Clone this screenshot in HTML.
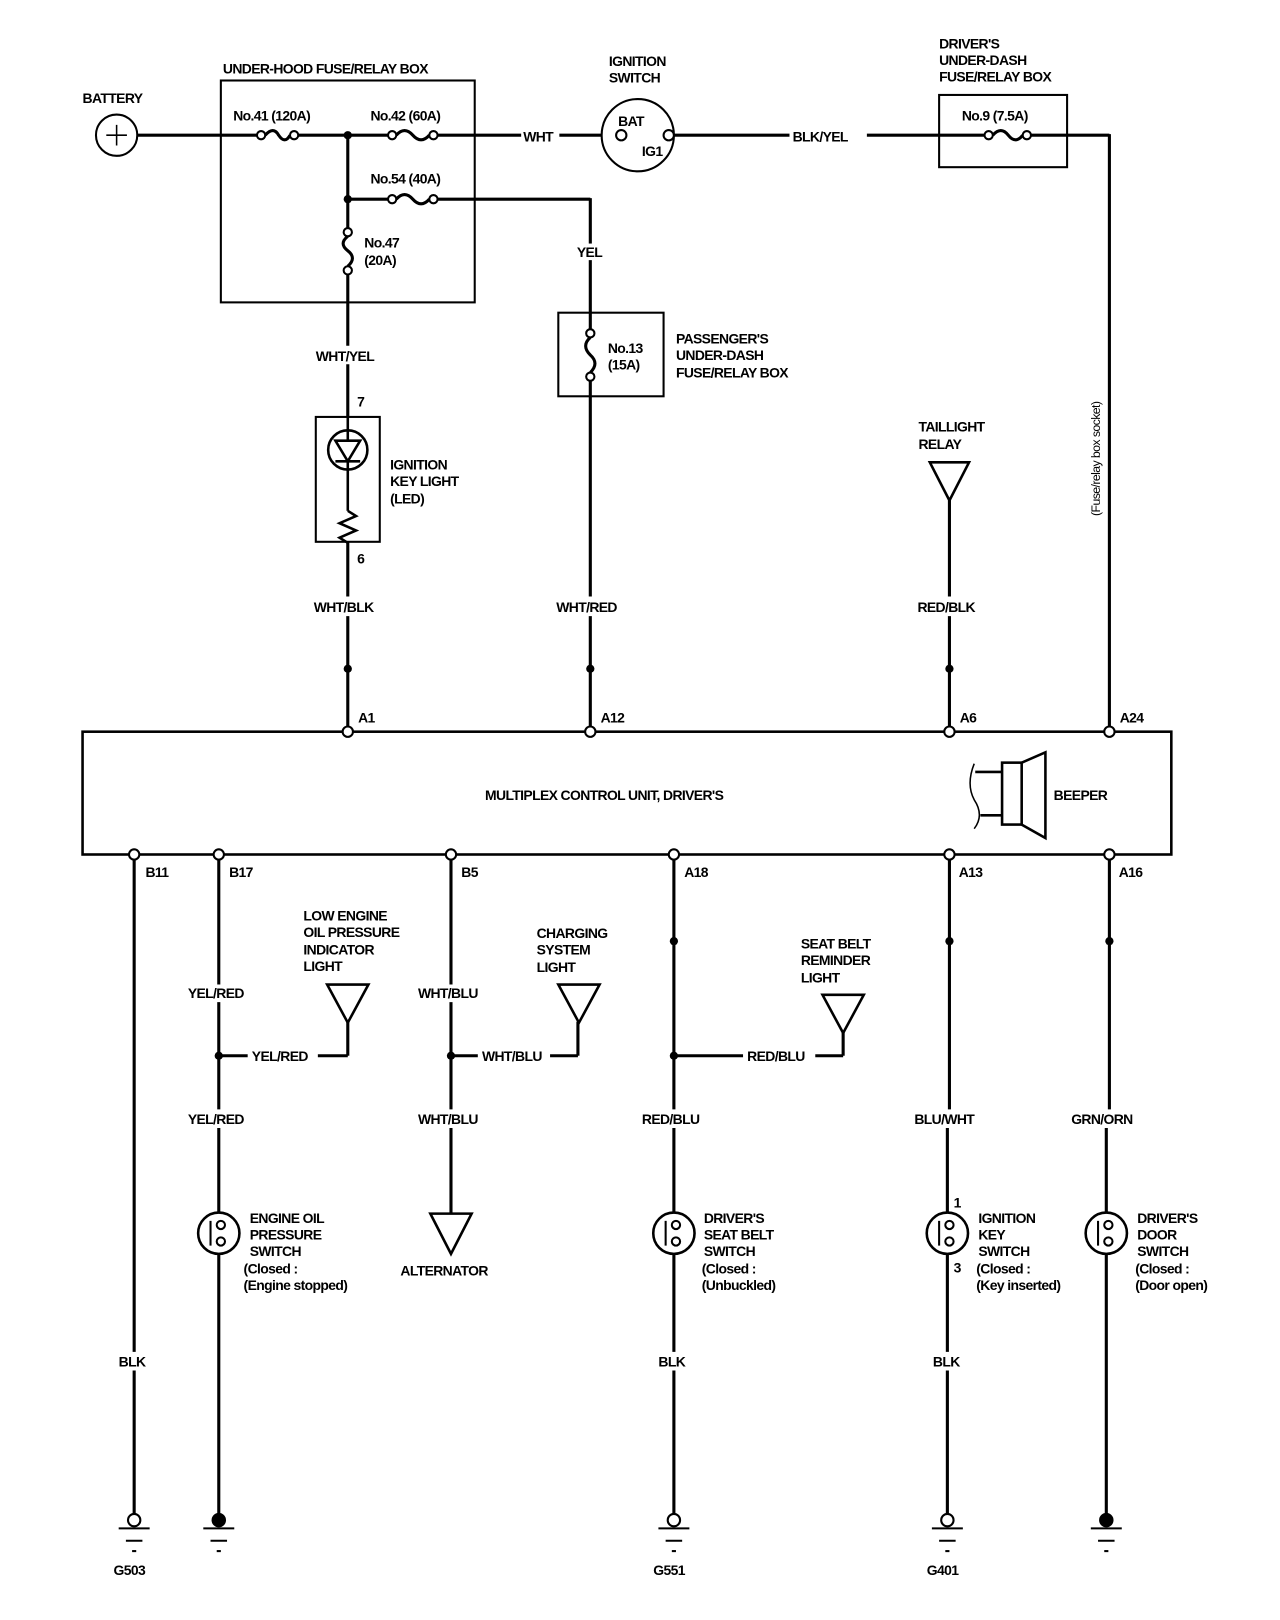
<!DOCTYPE html>
<html><head><meta charset="utf-8"><style>
html,body{margin:0;padding:0;background:#fff;}
svg{display:block}
text{font-family:"Liberation Sans",sans-serif;font-weight:bold;font-size:13.5px;fill:#000;letter-spacing:-0.6px}
</style></head><body>
<svg width="1280" height="1620" viewBox="0 0 1280 1620" xmlns="http://www.w3.org/2000/svg">
<defs>
<g id="gnd">
<line x1="-15" y1="3" x2="15" y2="3" stroke="#000" stroke-width="2"/>
<line x1="-8" y1="15" x2="8" y2="15" stroke="#000" stroke-width="2"/>
<line x1="-2" y1="25" x2="2" y2="25" stroke="#000" stroke-width="2"/>
</g>
<g id="sw">
<circle cx="0" cy="0" r="20" fill="#fff" stroke="#000" stroke-width="2.5"/>
<line x1="-8" y1="-12" x2="-8" y2="12" stroke="#000" stroke-width="2"/>
<circle cx="2" cy="-8" r="4" fill="#fff" stroke="#000" stroke-width="2"/>
<circle cx="2" cy="8" r="4" fill="#fff" stroke="#000" stroke-width="2"/>
</g>
</defs>
<g transform="scale(1.032)" stroke-linecap="butt">
<g stroke="#000" stroke-width="3" fill="none">
<line x1="133" y1="131" x2="253" y2="131"/>
<path d="M257 131 Q265 122 270 131 Q276 140 281 131"/>
<line x1="289" y1="131" x2="376" y2="131"/>
<path d="M384 131 Q392 122 400 131 Q408 140 416 131"/>
<line x1="424" y1="131" x2="505" y2="131"/>
<line x1="542" y1="131" x2="583" y2="131"/>
<line x1="653" y1="131" x2="765" y2="131"/>
<line x1="840" y1="131" x2="954" y2="131"/>
<path d="M962 131 Q970 122 977 131 Q984 140 991 131"/>
<line x1="999" y1="131" x2="1075" y2="131"/>
<line x1="1075" y1="130" x2="1075" y2="705"/>
<line x1="337" y1="131" x2="337" y2="221"/>
<line x1="337" y1="193" x2="376" y2="193"/>
<path d="M384 193 Q392 184 400 193 Q408 202 416 193"/>
<line x1="424" y1="193" x2="572" y2="193"/>
<line x1="572" y1="192" x2="572" y2="236"/>
<line x1="572" y1="252" x2="572" y2="319"/>
<path d="M572 327 Q563 335 572 344 Q581 352 572 361"/>
<line x1="572" y1="369" x2="572" y2="578"/>
<line x1="572" y1="597" x2="572" y2="705"/>
<path d="M337 229 Q328 236 337 243 Q346 250 337 258"/>
<line x1="337" y1="266" x2="337" y2="335"/>
<line x1="337" y1="353" x2="337" y2="578"/>
<line x1="337" y1="597" x2="337" y2="705"/>
<line x1="920" y1="485" x2="920" y2="578"/>
<line x1="920" y1="597" x2="920" y2="705"/>
</g>
<g stroke="#000" stroke-width="2" fill="#fff">
<circle cx="113" cy="131" r="20"/>
<circle cx="253" cy="131" r="4"/><circle cx="285" cy="131" r="4"/>
<circle cx="380" cy="131" r="4"/><circle cx="420" cy="131" r="4"/>
<circle cx="380" cy="193" r="4"/><circle cx="420" cy="193" r="4"/>
<circle cx="337" cy="225" r="4"/><circle cx="337" cy="262" r="4"/>
<circle cx="572" cy="323" r="4"/><circle cx="572" cy="365" r="4"/>
<circle cx="958" cy="131" r="4"/><circle cx="995" cy="131" r="4"/>
<circle cx="618" cy="131" r="35"/>
<circle cx="602" cy="131" r="5"/><circle cx="648" cy="131" r="5"/>
</g>
<line x1="103" y1="131" x2="123" y2="131" stroke="#000" stroke-width="1.5"/>
<line x1="113" y1="121" x2="113" y2="141" stroke="#000" stroke-width="1.5"/>
<g fill="none" stroke="#000" stroke-width="2">
<rect x="214" y="78" width="246" height="215"/>
<rect x="910" y="92" width="124" height="70"/>
<rect x="541" y="303" width="102" height="81"/>
<rect x="306" y="404" width="62" height="121" fill="#fff"/>
</g>
<circle cx="337" cy="131" r="4"/><circle cx="337" cy="193" r="4"/>
<g stroke="#000" stroke-width="2.5" fill="none">
<circle cx="337" cy="436" r="19"/>
<path d="M325 427 L349 427 L337 447 Z"/>
<line x1="325" y1="447" x2="349" y2="447"/>
<line x1="337" y1="404" x2="337" y2="427"/>
<line x1="337" y1="447" x2="337" y2="495"/>
<path d="M337 495 L345 500 L329 507 L345 514 L329 521 L337 526"/>
</g>
<path d="M901 448 L939 448 L920 485 Z" fill="none" stroke="#000" stroke-width="2.5"/>
<circle cx="337" cy="648" r="4"/><circle cx="572" cy="648" r="4"/><circle cx="920" cy="648" r="4"/>
<rect x="80" y="709" width="1055" height="119" fill="none" stroke="#000" stroke-width="2.5"/>
<g stroke="#000" stroke-width="2" fill="#fff">
<circle cx="337" cy="709" r="5"/><circle cx="572" cy="709" r="5"/><circle cx="920" cy="709" r="5"/><circle cx="1075" cy="709" r="5"/>
</g>
<g stroke="#000" stroke-width="2.5" fill="none">
<rect x="971" y="739" width="19" height="60"/>
<path d="M990 739 L1013 729 L1013 812 L990 799"/>
<line x1="945" y1="748" x2="971" y2="748"/><line x1="950" y1="790" x2="971" y2="790"/>
<path d="M944 740 Q936 760 944 775 Q954 790 944 803" stroke-width="1.5"/>
</g>
<g stroke="#000" stroke-width="3" fill="none">
<line x1="130" y1="833" x2="130" y2="1310"/><line x1="130" y1="1328" x2="130" y2="1468"/>
<line x1="212" y1="833" x2="212" y2="954"/><line x1="212" y1="971" x2="212" y2="1075"/><line x1="212" y1="1093" x2="212" y2="1470"/>
<line x1="212" y1="1023" x2="240" y2="1023"/><line x1="308" y1="1023" x2="337" y2="1023"/><line x1="337" y1="1023" x2="337" y2="990"/>
<line x1="437" y1="833" x2="437" y2="954"/><line x1="437" y1="971" x2="437" y2="1075"/><line x1="437" y1="1093" x2="437" y2="1176"/>
<line x1="437" y1="1023" x2="463" y2="1023"/><line x1="533" y1="1023" x2="560" y2="1023"/><line x1="560" y1="1023" x2="560" y2="990"/>
<line x1="653" y1="833" x2="653" y2="1075"/><line x1="653" y1="1093" x2="653" y2="1310"/><line x1="653" y1="1328" x2="653" y2="1468"/>
<line x1="653" y1="1023" x2="720" y2="1023"/><line x1="790" y1="1023" x2="817" y2="1023"/><line x1="817" y1="1023" x2="817" y2="1000"/>
<line x1="920" y1="833" x2="920" y2="1075"/><line x1="918" y1="1093" x2="918" y2="1310"/><line x1="918" y1="1328" x2="918" y2="1468"/>
<line x1="1075" y1="833" x2="1075" y2="1075"/><line x1="1072" y1="1093" x2="1072" y2="1470"/>
</g>
<g stroke="#000" stroke-width="2.5" fill="none">
<path d="M317 954 L357 954 L337 991 Z"/>
<path d="M541 954 L581 954 L561 991 Z"/>
<path d="M797 964 L837 964 L817 1001 Z"/>
<path d="M417 1176 L457 1176 L437 1215 Z"/>
</g>
<g stroke="#000" stroke-width="2" fill="#fff">
<circle cx="130" cy="828" r="5"/><circle cx="212" cy="828" r="5"/><circle cx="437" cy="828" r="5"/><circle cx="653" cy="828" r="5"/><circle cx="920" cy="828" r="5"/><circle cx="1075" cy="828" r="5"/>
<circle cx="130" cy="1473" r="6"/><circle cx="653" cy="1473" r="6"/><circle cx="918" cy="1473" r="6"/>
</g>
<circle cx="212" cy="1473" r="7"/><circle cx="1072" cy="1473" r="7"/>
<circle cx="212" cy="1023" r="4"/><circle cx="437" cy="1023" r="4"/><circle cx="653" cy="1023" r="4"/>
<circle cx="653" cy="912" r="4"/><circle cx="920" cy="912" r="4"/><circle cx="1075" cy="912" r="4"/>
<use href="#gnd" x="130" y="1478"/><use href="#gnd" x="212" y="1478"/><use href="#gnd" x="653" y="1478"/><use href="#gnd" x="918" y="1478"/><use href="#gnd" x="1072" y="1478"/>
<use href="#sw" x="212" y="1195"/><use href="#sw" x="653" y="1195"/><use href="#sw" x="918" y="1195"/><use href="#sw" x="1072" y="1195"/>

<text x="80" y="100">BATTERY</text>
<text x="216" y="71">UNDER-HOOD FUSE/RELAY BOX</text>
<text x="226" y="117">No.41 (120A)</text>
<text x="359" y="117">No.42 (60A)</text>
<text x="359" y="178">No.54 (40A)</text>
<text x="353" y="240">No.47</text>
<text x="353" y="257">(20A)</text>
<text x="507" y="137">WHT</text>
<text x="590" y="64">IGNITION</text>
<text x="590" y="80">SWITCH</text>
<text x="599" y="122">BAT</text>
<text x="622" y="151">IG1</text>
<text x="768" y="137">BLK/YEL</text>
<text x="910" y="47">DRIVER'S</text>
<text x="910" y="63">UNDER-DASH</text>
<text x="910" y="79">FUSE/RELAY BOX</text>
<text x="932" y="117">No.9 (7.5A)</text>
<text x="559" y="249">YEL</text>
<text x="589" y="342">No.13</text>
<text x="589" y="358">(15A)</text>
<text x="655" y="333">PASSENGER'S</text>
<text x="655" y="349">UNDER-DASH</text>
<text x="655" y="366">FUSE/RELAY BOX</text>
<text x="306" y="350">WHT/YEL</text>
<text x="346" y="394">7</text>
<text x="378" y="455">IGNITION</text>
<text x="378" y="471">KEY LIGHT</text>
<text x="378" y="488">(LED)</text>
<text x="346" y="546">6</text>
<text x="304" y="593">WHT/BLK</text>
<text x="539" y="593">WHT/RED</text>
<text x="890" y="418">TAILLIGHT</text>
<text x="890" y="435">RELAY</text>
<text x="889" y="593">RED/BLK</text>
<text transform="translate(1066,500) rotate(-90)" style="font-size:12px;font-weight:normal">(Fuse/relay box socket)</text>
<text x="347" y="700">A1</text>
<text x="582" y="700">A12</text>
<text x="930" y="700">A6</text>
<text x="1085" y="700">A24</text>
<text x="470" y="775">MULTIPLEX CONTROL UNIT, DRIVER'S</text>
<text x="1021" y="775">BEEPER</text>
<text x="141" y="850">B11</text>
<text x="222" y="850">B17</text>
<text x="447" y="850">B5</text>
<text x="663" y="850">A18</text>
<text x="929" y="850">A13</text>
<text x="1084" y="850">A16</text>
<text x="294" y="892">LOW ENGINE</text>
<text x="294" y="908">OIL PRESSURE</text>
<text x="294" y="925">INDICATOR</text>
<text x="294" y="941">LIGHT</text>
<text x="520" y="909">CHARGING</text>
<text x="520" y="925">SYSTEM</text>
<text x="520" y="942">LIGHT</text>
<text x="776" y="919">SEAT BELT</text>
<text x="776" y="935">REMINDER</text>
<text x="776" y="952">LIGHT</text>
<text x="182" y="967">YEL/RED</text>
<text x="405" y="967">WHT/BLU</text>
<text x="244" y="1028">YEL/RED</text>
<text x="467" y="1028">WHT/BLU</text>
<text x="724" y="1028">RED/BLU</text>
<text x="182" y="1089">YEL/RED</text>
<text x="405" y="1089">WHT/BLU</text>
<text x="622" y="1089">RED/BLU</text>
<text x="886" y="1089">BLU/WHT</text>
<text x="1038" y="1089">GRN/ORN</text>
<text x="242" y="1185">ENGINE OIL</text>
<text x="242" y="1201">PRESSURE</text>
<text x="242" y="1217">SWITCH</text>
<text x="236" y="1234">(Closed :</text>
<text x="236" y="1250">(Engine stopped)</text>
<text x="388" y="1236">ALTERNATOR</text>
<text x="682" y="1185">DRIVER'S</text>
<text x="682" y="1201">SEAT BELT</text>
<text x="682" y="1217">SWITCH</text>
<text x="680" y="1234">(Closed :</text>
<text x="680" y="1250">(Unbuckled)</text>
<text x="924" y="1170">1</text>
<text x="924" y="1233">3</text>
<text x="948" y="1185">IGNITION</text>
<text x="948" y="1201">KEY</text>
<text x="948" y="1217">SWITCH</text>
<text x="946" y="1234">(Closed :</text>
<text x="946" y="1250">(Key inserted)</text>
<text x="1102" y="1185">DRIVER'S</text>
<text x="1102" y="1201">DOOR</text>
<text x="1102" y="1217">SWITCH</text>
<text x="1100" y="1234">(Closed :</text>
<text x="1100" y="1250">(Door open)</text>
<text x="115" y="1324">BLK</text>
<text x="638" y="1324">BLK</text>
<text x="904" y="1324">BLK</text>
<text x="110" y="1526">G503</text>
<text x="633" y="1526">G551</text>
<text x="898" y="1526">G401</text>
</g>
</svg>
</body></html>
